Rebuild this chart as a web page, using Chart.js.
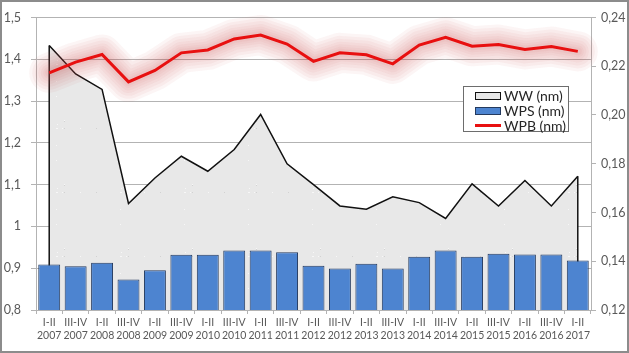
<!DOCTYPE html>
<html lang="en">
<head>
    <meta charset="UTF-8">
    <title>WW / WPS / WPB</title>
    <script src="https://cdn.jsdelivr.net/npm/chart.js"></script>
    <style>
        body { margin: 0; background: #fff; font-family: Lato, "Open Sans", sans-serif; }
        #wrap { position: relative; width: 629px; height: 353px; }
        #frame { position: absolute; left: 0; top: 0; width: 629px; height: 353px; box-sizing: border-box; border: 2px solid #8c8c8c; pointer-events: none; }
        #legend { position: absolute; left: 463px; top: 86px; width: 106px; height: 46px; box-sizing: border-box; border: 1px solid #6d6d6d; background: #fff; padding: 1px 0 0 11px; }
        .row { height: 15px; line-height: 15px; font-size: 14px; color: #262626; display: flex; align-items: center; }
        .sym { width: 26px; height: 8px; margin-right: 3px; box-sizing: border-box; }
        .ww { background: #e6e6e6; border: 1px solid #111; }
        .wps { background: #4d84d0; border: 1px solid #243a5e; }
        .wpb { height: 3px; background: #e81010; }
    </style>
</head>
<body>
    <div id="wrap">
        <canvas id="chart" width="629" height="353"></canvas>
        <div id="legend">
            <div class="row"><span class="sym ww"></span>WW (nm)</div>
            <div class="row"><span class="sym wps"></span>WPS (nm)</div>
            <div class="row"><span class="sym wpb"></span>WPB (nm)</div>
        </div>
        <div id="frame"></div>
    </div>

    <script>
        // периоды
        const halves = ['I-II', 'III-IV', 'I-II', 'III-IV', 'I-II', 'III-IV', 'I-II', 'III-IV', 'I-II', 'III-IV', 'I-II',
                        'III-IV', 'I-II', 'III-IV', 'I-II', 'III-IV', 'I-II', 'III-IV', 'I-II', 'III-IV', 'I-II'];
        const years = ['2007', '2007', '2008', '2008', '2009', '2009', '2010', '2010', '2011', '2011', '2012',
                       '2012', '2013', '2013', '2014', '2014', '2015', '2015', '2016', '2016', '2017'];

        // левая ось
        const ww = [1.433, 1.365, 1.328, 1.055, 1.116, 1.168, 1.132, 1.184, 1.268, 1.150, 1.100,
                    1.049, 1.041, 1.071, 1.057, 1.019, 1.102, 1.049, 1.110, 1.049, 1.120];
        // правая ось
        const wps = [0.1387, 0.1380, 0.1394, 0.1325, 0.1363, 0.1427, 0.1427, 0.1444, 0.1444, 0.1437, 0.1382,
                     0.1370, 0.1390, 0.1370, 0.1418, 0.1444, 0.1418, 0.1431, 0.1428, 0.1428, 0.1403];
        const wpb = [0.2173, 0.2217, 0.2248, 0.2136, 0.2183, 0.2255, 0.2267, 0.2312, 0.2328, 0.2291, 0.2220,
                     0.2255, 0.2247, 0.2210, 0.2287, 0.2319, 0.2282, 0.2289, 0.2269, 0.2281, 0.2261];

        const labels = halves.map((h, i) => [h, years[i]]);

        // серая "зернистая" заливка
        function makeTexture() {
            const c = document.createElement('canvas');
            c.width = 64; c.height = 64;
            const g = c.getContext('2d');
            g.fillStyle = '#e8e8e8';
            g.fillRect(0, 0, 64, 64);
            let s = 12345;
            for (let i = 0; i < 1600; i++) {
                s = (s * 1103515245 + 12345) % 2147483648;
                const x = s % 64;
                s = (s * 1103515245 + 12345) % 2147483648;
                const y = s % 64;
                g.fillStyle = (i % 2 === 0) ? '#f7f7f7' : '#d2d2d2';
                g.fillRect(x, y, 1, 1);
            }
            return g.createPattern(c, 'repeat');
        }

        const glow = {
            id: 'glow',
            beforeDatasetDraw(chart, args) {
                if (args.index === 2) {
                    // мягкий ореол под красной линией (несколько полупрозрачных проходов)
                    const ctx = chart.ctx;
                    const pts = args.meta.data;
                    ctx.save();
                    ctx.lineJoin = 'round';
                    ctx.lineCap = 'round';
                    [40, 34, 28, 22, 17, 12, 8].forEach(w => {
                        ctx.strokeStyle = 'rgba(195, 80, 80, 0.055)';
                        ctx.lineWidth = w;
                        ctx.beginPath();
                        pts.forEach((p, i) => i ? ctx.lineTo(p.x, p.y) : ctx.moveTo(p.x, p.y));
                        ctx.stroke();
                    });
                    ctx.restore();
                }
            },
            afterDatasetDraw(chart, args) {
                if (args.index === 0) {
                    // боковые края области WW
                    const ctx = chart.ctx;
                    const pts = args.meta.data;
                    const bottom = chart.scales.y.bottom;
                    ctx.save();
                    ctx.strokeStyle = '#111';
                    ctx.lineWidth = 1.5;
                    [pts[0], pts[pts.length - 1]].forEach(p => {
                        ctx.beginPath();
                        ctx.moveTo(p.x, p.y);
                        ctx.lineTo(p.x, bottom);
                        ctx.stroke();
                    });
                    ctx.restore();
                }
            }
        };

        const gridColor = '#b3b3b3';
        const tickColor = '#595959';

        new Chart(document.getElementById('chart').getContext('2d'), {
            type: 'bar',
            data: {
                labels: labels,
                datasets: [{
                    type: 'line',
                    label: 'WW (nm)',
                    data: ww,
                    yAxisID: 'y',
                    borderColor: '#111',
                    borderWidth: 1.5,
                    backgroundColor: makeTexture(),
                    fill: 'start',
                    pointRadius: 0,
                    tension: 0,
                    order: 3
                }, {
                    type: 'bar',
                    label: 'WPS (nm)',
                    data: wps,
                    yAxisID: 'y2',
                    backgroundColor: '#4d84d0',
                    borderColor: '#243a5e',
                    borderWidth: 1,
                    barPercentage: 0.83,
                    categoryPercentage: 1,
                    order: 2
                }, {
                    type: 'line',
                    label: 'WPB (nm)',
                    data: wpb,
                    yAxisID: 'y2',
                    borderColor: '#e81010',
                    borderWidth: 3,
                    pointRadius: 0,
                    tension: 0,
                    fill: false,
                    order: 1
                }]
            },
            options: {
                responsive: false,
                animation: false,
                layout: { padding: { top: 15, left: 0, right: 0, bottom: 0 } },
                plugins: {
                    legend: { display: false },
                    tooltip: { enabled: false }
                },
                scales: {
                    x: {
                        offset: true,
                        grid: { offset: true, drawOnChartArea: false, tickLength: 4, color: gridColor },
                        border: { color: gridColor },
                        ticks: {
                            color: tickColor, maxRotation: 0, autoSkip: false, padding: 3,
                            font: { family: 'Lato', size: 10.5, lineHeight: 1.15 }
                        },
                        afterFit: s => { s.height = 43; }
                    },
                    y: {
                        position: 'left',
                        min: 0.8, max: 1.5,
                        grid: { color: gridColor, tickLength: 5 },
                        border: { color: gridColor },
                        ticks: {
                            stepSize: 0.1, padding: 10, color: tickColor,
                            font: { family: 'Lato', size: 12.5 },
                            callback: v => String(Math.round(v * 10) / 10).replace('.', ',')
                        },
                        afterFit: s => { s.width = 36; }
                    },
                    y2: {
                        position: 'right',
                        min: 0.12, max: 0.24,
                        grid: { drawOnChartArea: false, color: gridColor, tickLength: 5 },
                        border: { color: gridColor },
                        ticks: {
                            stepSize: 0.02, padding: 5, color: tickColor,
                            font: { family: 'Lato', size: 12.5 },
                            callback: v => v.toFixed(2).replace('.', ',')
                        },
                        afterFit: s => { s.width = 38; }
                    }
                }
            },
            plugins: [glow]
        });
    </script>
</body>
</html>
